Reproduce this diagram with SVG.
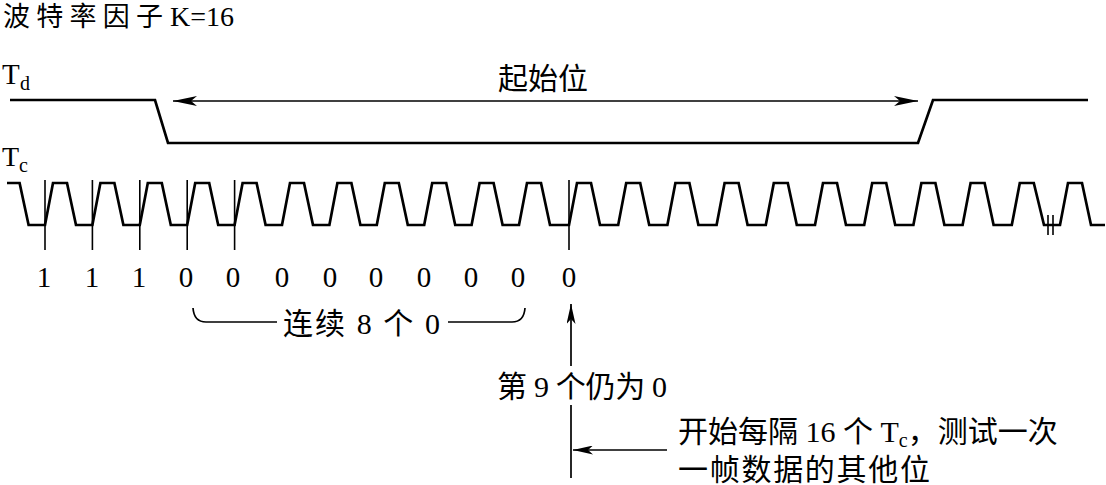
<svg xmlns="http://www.w3.org/2000/svg" width="1106" height="485" viewBox="0 0 1106 485">
<style>
text{font-family:"Liberation Serif","Noto Sans CJK SC",serif;fill:#000}
.cn{font-size:30px}
.num{font-size:29px;text-anchor:middle}
.sig{fill:none;stroke:#000;stroke-width:2.7;stroke-linejoin:miter}
.thin{fill:none;stroke:#000;stroke-width:1.7}
.tick{stroke:#000;stroke-width:1.6}
</style>
<defs>
<marker id="ah" viewBox="0 0 24 10" refX="24" refY="5" markerWidth="24" markerHeight="10" markerUnits="userSpaceOnUse" orient="auto-start-reverse">
<path d="M0,0 L24,5 L0,10 L6,5 Z" fill="#000"/>
</marker>
<marker id="ah2" viewBox="0 0 20 9" refX="20" refY="4.5" markerWidth="20" markerHeight="9" markerUnits="userSpaceOnUse" orient="auto">
<path d="M0,0 L20,4.5 L0,9 L5,4.5 Z" fill="#000"/>
</marker>
</defs>
<rect width="1106" height="485" fill="#fff"/>

<g id="title">
<text x="3" y="26" font-size="27"><tspan textLength="160" lengthAdjust="spacing">波特率因子</tspan><tspan x="170" font-size="28">K=16</tspan></text>
</g>

<g id="td">
<text x="2" y="84" font-size="29">T<tspan font-size="20" dy="6" x="20">d</tspan></text>
<path class="sig" d="M10,100 L155,100 L168,143 L918,143 L933,100 L1088,100"/>
</g>

<g id="start-bit">
<text class="cn" x="543" y="89" text-anchor="middle">起始位</text>
</g>

<g id="tc">
<text x="2" y="166" font-size="28">T<tspan font-size="20" dy="6" x="19">c</tspan></text>
<path class="sig" d="M7,183 L19.6,183 L28.6,225
L45,225 L53,183 L67,183 L76,225
L92.4,225 L100.4,183 L114.4,183 L123.4,225
L139.8,225 L147.8,183 L161.8,183 L170.8,225
L187.2,225 L195.2,183 L209.2,183 L218.2,225
L234.6,225 L242.6,183 L256.6,183 L265.6,225
L282,225 L290,183 L304,183 L313,225
L329.4,225 L337.4,183 L351.4,183 L360.4,225
L376.8,225 L384.8,183 L398.8,183 L407.8,225
L424.2,225 L432.2,183 L446.2,183 L455.2,225
L471.6,225 L479.6,183 L493.6,183 L502.6,225
L519,225 L527,183 L541,183 L550,225
L569,225 L577,183 L591,183 L600,225
L618.2,225 L626.2,183 L640.2,183 L649.2,225
L667.4,225 L675.4,183 L689.4,183 L698.4,225
L716.6,225 L724.6,183 L738.6,183 L747.6,225
L765.8,225 L773.8,183 L787.8,183 L796.8,225
L815,225 L823,183 L837,183 L846,225
L864.2,225 L872.2,183 L886.2,183 L895.2,225
L913.4,225 L921.4,183 L935.4,183 L944.4,225
L962.6,225 L970.6,183 L984.6,183 L993.6,225
L1011.8,225 L1019.8,183 L1033.8,183 L1044,225
L1060,225 L1068,183 L1082,183 L1091,225 L1105,225"/>
<line class="tick" x1="1048" y1="215" x2="1048" y2="235"/>
<line class="tick" x1="1053" y1="215" x2="1053" y2="235"/>
<line class="tick" x1="45" y1="180" x2="45" y2="250"/>
<line class="tick" x1="92.4" y1="180" x2="92.4" y2="250"/>
<line class="tick" x1="139.8" y1="180" x2="139.8" y2="250"/>
<line class="tick" x1="187.2" y1="180" x2="187.2" y2="250"/>
<line class="tick" x1="234.6" y1="180" x2="234.6" y2="250"/>
<line class="tick" x1="569" y1="180" x2="569" y2="250"/>
</g>

<g id="bits">
<text class="num" x="44" y="287">1</text>
<text class="num" x="92" y="287">1</text>
<text class="num" x="139" y="287">1</text>
<text class="num" x="186" y="287">0</text>
<text class="num" x="233" y="287">0</text>
<text class="num" x="282" y="287">0</text>
<text class="num" x="330" y="287">0</text>
<text class="num" x="376" y="287">0</text>
<text class="num" x="424" y="287">0</text>
<text class="num" x="471" y="287">0</text>
<text class="num" x="518" y="287">0</text>
<text class="num" x="569" y="287">0</text>
</g>

<g id="brace">
<path class="thin" d="M193,308 Q194,322 206,322 L277,322 M448,322 L512,322 Q524,322 525,308"/>
<text class="cn" x="283" y="334" textLength="157" lengthAdjust="spacing">连续 8 个 0</text>
</g>

<g id="ninth">
<text class="cn" x="497" y="397" textLength="170" lengthAdjust="spacing">第 9 个仍为 0</text>
</g>

<g id="note">
<text class="cn" x="678" y="442">开始每隔 16 个 T<tspan font-size="20" dy="5">c</tspan><tspan dy="-5">，测试一次</tspan></text>
<text class="cn" x="678" y="480" textLength="252" lengthAdjust="spacing">一帧数据的其他位</text>
</g>

<g id="connectors">
<line class="thin" x1="173" y1="101" x2="918" y2="101" marker-start="url(#ah)" marker-end="url(#ah)"/>
<line class="thin" x1="571" y1="366" x2="571" y2="304" marker-end="url(#ah2)"/>
<line class="thin" x1="571" y1="405" x2="571" y2="478"/>
<line class="thin" x1="667" y1="450" x2="573" y2="450" marker-end="url(#ah2)"/>
</g>
</svg>
